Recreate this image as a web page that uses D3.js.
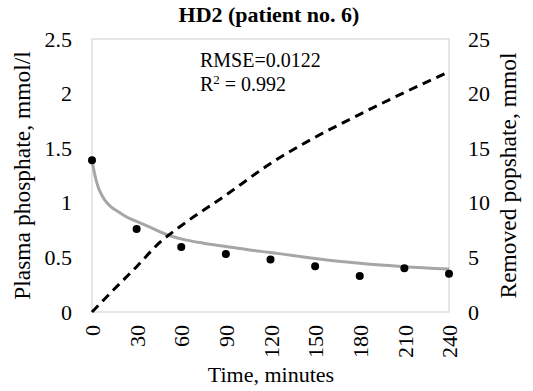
<!DOCTYPE html>
<html><head><meta charset="utf-8">
<script src="https://cdn.jsdelivr.net/npm/d3@7"></script>
<style>body{margin:0;background:#fff}svg{display:block}
#c text{font-family:"Liberation Serif","Times New Roman",Times,serif}</style>
</head><body>
<svg id="c" width="533" height="391"></svg>
<script>
// Measured plasma phosphate (mmol/l)
const timeMeasured = [0, 30, 60, 90, 120, 150, 180, 210, 240];
const phosphateMeasured = [1.39, 0.76, 0.595, 0.53, 0.48, 0.42, 0.33, 0.40, 0.35];
// Model fit (gray curve)
const timeFit = [0, 2, 4, 7, 10, 13, 18, 24, 30, 40, 50, 60, 75, 90, 105, 120, 150, 180, 210, 240];
const phosphateFit = [1.39, 1.25, 1.15, 1.06, 1.0, 0.96, 0.915, 0.865, 0.83, 0.77, 0.71, 0.67, 0.63, 0.60, 0.57, 0.545, 0.49, 0.446, 0.415, 0.394];
// Removed phosphate (mmol, right axis, dashed)
const timeRemoved = [0, 15, 30, 45, 60, 90, 120, 150, 180, 210, 240];
const removed = [0, 2.1, 4.15, 6.3, 7.9, 10.7, 13.6, 16.0, 18.1, 20.1, 22.0];
// Ticks
const xTicks = [0, 30, 60, 90, 120, 150, 180, 210, 240];
const yLeftTicks = [0, 0.5, 1, 1.5, 2, 2.5];
const yRightTicks = [0, 5, 10, 15, 20, 25];

const svg = d3.select("#c");
const m = {l: 92, r: 449, t: 39, b: 312};
const x = d3.scaleLinear().domain([0, 240]).range([m.l, m.r]);
const yL = d3.scaleLinear().domain([0, 2.5]).range([m.b, m.t]);
const yR = d3.scaleLinear().domain([0, 25]).range([m.b, m.t]);

svg.append("rect").attr("x", m.l).attr("y", m.t).attr("width", m.r - m.l).attr("height", m.b - m.t)
  .attr("fill", "none").attr("stroke", "#d9d9d9").attr("stroke-width", 1.3);

const fs = 22;
function styleAxis(g) {
  g.attr("font-family", null).attr("font-size", fs);
  g.select(".domain").remove();
  g.selectAll("text").attr("fill", "#000");
}
svg.append("g").attr("transform", `translate(${m.l},0)`)
  .call(d3.axisLeft(yL).tickValues(yLeftTicks).tickFormat(d3.format("~g")).tickSize(0).tickPadding(20))
  .call(styleAxis);
svg.append("g").attr("transform", `translate(${m.r},0)`)
  .call(d3.axisRight(yR).tickValues(yRightTicks).tickSize(0).tickPadding(19))
  .call(styleAxis);
const gB = svg.append("g").attr("transform", `translate(0,${m.b})`)
  .call(d3.axisBottom(x).tickValues(xTicks).tickSize(0).tickPadding(0))
  .call(styleAxis);
gB.selectAll("text")
  .attr("transform", "rotate(-90)").attr("text-anchor", "end").attr("x", -13).attr("y", 0).attr("dy", "0.35em");

svg.append("path").datum(timeFit.map((t, i) => [t, phosphateFit[i]]))
  .attr("fill", "none").attr("stroke", "#a6a6a6").attr("stroke-width", 3)
  .attr("d", d3.line().x(d => x(d[0])).y(d => yL(d[1])).curve(d3.curveMonotoneX));
svg.append("path").datum(timeRemoved.map((t, i) => [t, removed[i]]))
  .attr("fill", "none").attr("stroke", "#000").attr("stroke-width", 3).attr("stroke-dasharray", "9,6")
  .attr("d", d3.line().x(d => x(d[0])).y(d => yR(d[1])).curve(d3.curveMonotoneX));
svg.append("g").selectAll("circle").data(timeMeasured).join("circle")
  .attr("cx", d => x(d)).attr("cy", (d, i) => yL(phosphateMeasured[i])).attr("r", 4).attr("fill", "#000");

svg.append("text").attr("x", 269).attr("y", 22).attr("text-anchor", "middle")
  .attr("font-size", 22).attr("font-weight", "bold").text("HD2 (patient no. 6)");
svg.append("text").attr("x", 200).attr("y", 67).attr("font-size", 20).text("RMSE=0.0122");
const r2 = svg.append("text").attr("x", 200).attr("y", 91).attr("font-size", 20);
r2.append("tspan").text("R");
r2.append("tspan").attr("dy", -7).attr("font-size", 13).text("2");
r2.append("tspan").attr("dy", 7).text(" = 0.992");
svg.append("text").attr("transform", `translate(30,${(m.t + m.b) / 2}) rotate(-90)`).attr("text-anchor", "middle")
  .attr("font-size", 23.5).text("Plasma phosphate, mmol/l");
svg.append("text").attr("transform", `translate(516,${(m.t + m.b) / 2}) rotate(-90)`).attr("text-anchor", "middle")
  .attr("font-size", 23.5).text("Removed popshate, mmol");
svg.append("text").attr("x", 271).attr("y", 382).attr("text-anchor", "middle")
  .attr("font-size", 22).text("Time, minutes");
</script>
</body></html>
